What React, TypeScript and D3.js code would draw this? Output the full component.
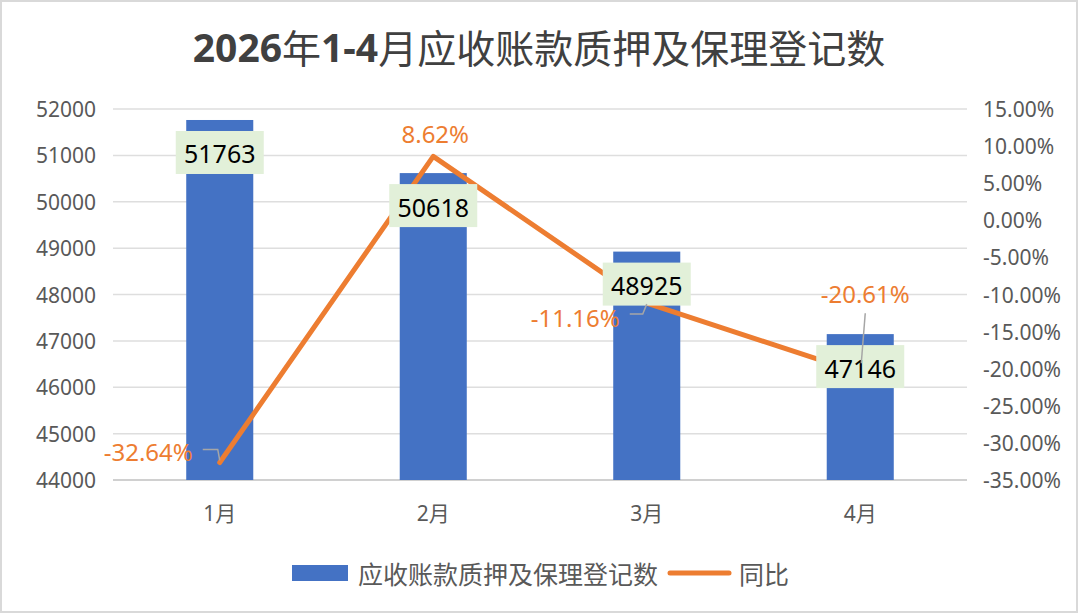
import * as d3 from 'd3'
import React from "react";

const months = ['1月', '2月', '3月', '4月'];
const counts = [51763, 50618, 48925, 47146];
const yoy = [-0.3264, 0.0862, -0.1116, -0.2061];
const leftTicks = [44000, 45000, 46000, 47000, 48000, 49000, 50000, 51000, 52000];
const rightTicks = [-0.35, -0.3, -0.25, -0.2, -0.15, -0.1, -0.05, 0, 0.05, 0.1, 0.15];
const yoyLabels = ['-32.64%', '8.62%', '-11.16%', '-20.61%'];

const barName = '应收账款质押及保理登记数';
const lineName = '同比';

const W = 1080;
const H = 615;
const latin = '"Noto Sans", "Noto Sans CJK SC", sans-serif';
const cjk = '"Noto Sans CJK SC", "Noto Sans", sans-serif';
const axisGrey = '#595959';
const blue = '#4472C4';
const orange = '#ED7D31';

// plain hyphen for negatives, like Excel
const pct = d3.formatLocale({ decimal: '.', thousands: ',', grouping: [3], currency: ['', ''], minus: '-' }).format('.2%');

// where each yoy label sits relative to its point, Excel-ish manual placement
const labelPos = [
    { dx: -27, dy: -11, anchor: 'end', leader: (x: number, y: number) => `M${x - 17},${y - 13}H${x - 2}L${x},${y - 2}` },
    { dx: 2, dy: -23, anchor: 'middle', leader: null },
    { dx: -27, dy: 14, anchor: 'end', leader: (x: number, y: number) => `M${x - 17},${y + 11}H${x - 4}L${x},${y + 1}` },
    { dx: 5, dy: -80, anchor: 'middle', leader: (x: number, y: number) => `M${x + 5},${y - 60}L${x + 1},${y - 10}` },
];

const App: React.FC = () => {
    const x = d3.scaleBand<string>()
        .domain(months)
        .range([113, 967])
        .paddingInner(0.686)
        .paddingOuter(0.343);
    const yL = d3.scaleLinear().domain([44000, 52000]).range([480, 109]);
    const yR = d3.scaleLinear().domain([-0.35, 0.15]).range([480, 109]);

    const cx = (m: string) => (x(m) ?? 0) + x.bandwidth() / 2;

    const line = d3.line<number>()
        .x((_, i) => cx(months[i]))
        .y(d => yR(d));

    const boxW = 88;
    const boxH = 43;

    return (
        <svg width={W} height={H} style={{ display: 'block', position: 'absolute', left: 0, top: 0 }}>
            <rect x={1} y={1} width={W - 4} height={H - 4} fill="#fff" stroke="#d9d9d9" strokeWidth={2} />

            <text x={539} y={46} textAnchor="middle" dominantBaseline="central"
                fontFamily={cjk} fontSize={39} fill="#404040">
                <tspan fontWeight="bold" fontFamily={latin}>2026</tspan>
                <tspan>年</tspan>
                <tspan fontWeight="bold" fontFamily={latin}>1-4</tspan>
                <tspan>月应收账款质押及保理登记数</tspan>
            </text>

            {leftTicks.map(t => (
                <line key={'g' + t} x1={113} x2={967} y1={yL(t)} y2={yL(t)}
                    stroke={t === 44000 ? '#d0d0d0' : '#dedede'} strokeWidth={t === 44000 ? 2 : 1.5} />
            ))}

            {leftTicks.map(t => (
                <text key={'l' + t} x={96} y={yL(t)} textAnchor="end" dominantBaseline="central"
                    fontFamily={latin} fontSize={21} fill={axisGrey}>{t}</text>
            ))}
            {rightTicks.map(t => (
                <text key={'r' + t} x={983} y={yR(t)} dominantBaseline="central"
                    fontFamily={latin} fontSize={21} fill={axisGrey}>{pct(t)}</text>
            ))}
            {months.map(m => (
                <text key={'x' + m} x={cx(m)} y={513} textAnchor="middle" dominantBaseline="central"
                    fontFamily={latin} fontSize={21} fill={axisGrey}>{m}</text>
            ))}

            {counts.map((v, i) => (
                <rect key={'b' + i} x={x(months[i])} y={yL(v)} width={x.bandwidth()}
                    height={yL(44000) - yL(v)} fill={blue} />
            ))}

            <path d={line(yoy) ?? ''} fill="none" stroke={orange} strokeWidth={5}
                strokeLinecap="round" strokeLinejoin="round" />

            {counts.map((v, i) => {
                const top = yL(v) + 11;
                return (
                    <g key={'bl' + i}>
                        <rect x={cx(months[i]) - boxW / 2} y={top} width={boxW} height={boxH} fill="#E2F0D9" />
                        <text x={cx(months[i])} y={top + boxH / 2 + 1} textAnchor="middle" dominantBaseline="central"
                            fontFamily={latin} fontSize={25} fill="#000">{v}</text>
                    </g>
                );
            })}

            {yoy.map((v, i) => {
                const px = cx(months[i]);
                const py = yR(v);
                const p = labelPos[i];
                return (
                    <g key={'pl' + i}>
                        {p.leader && <path d={p.leader(px, py)} fill="none" stroke="#a6a6a6" strokeWidth={1.5} />}
                        <text x={px + p.dx} y={py + p.dy} textAnchor={p.anchor as any} dominantBaseline="central"
                            fontFamily={latin} fontSize={24} fill={orange}>{yoyLabels[i]}</text>
                    </g>
                );
            })}

            <g>
                <rect x={292} y={565} width={56} height={16} fill={blue} />
                <text x={358} y={573} dominantBaseline="central" fontFamily={cjk} fontSize={25} fill={axisGrey}>{barName}</text>
                <line x1={670} x2={729} y1={573} y2={573} stroke={orange} strokeWidth={5} strokeLinecap="round" />
                <text x={739} y={573} dominantBaseline="central" fontFamily={cjk} fontSize={25} fill={axisGrey}>{lineName}</text>
            </g>
        </svg>
    );
}

export default App;
